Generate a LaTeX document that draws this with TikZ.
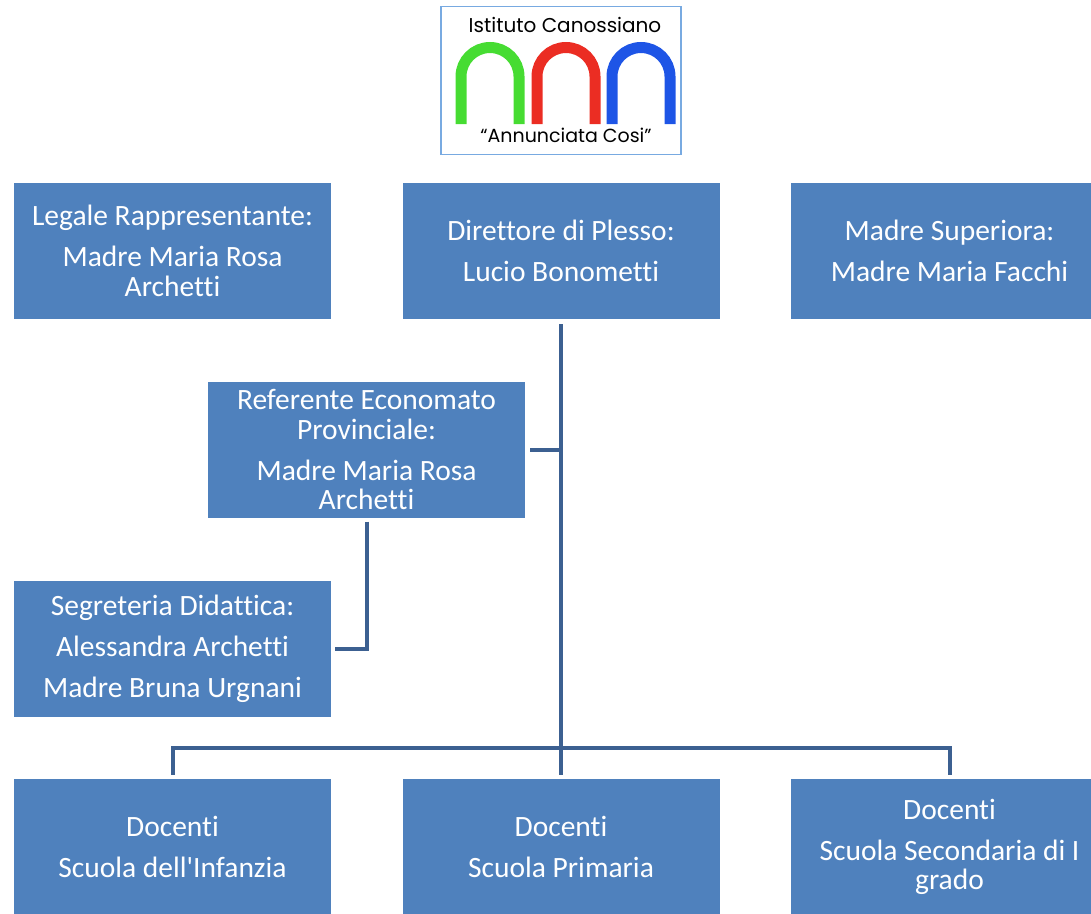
\documentclass[tikz,border=0pt]{standalone}
\usepackage{fontspec}
\setmainfont{Carlito}[Ligatures=CommonOff]
\newfontfamily\logofont{Poppins}
\usetikzlibrary{positioning}

\definecolor{boxblue}{RGB}{79,129,189}
\definecolor{linkblue}{RGB}{60,96,145}
\definecolor{logoblue}{RGB}{120,170,225}
\definecolor{archgreen}{RGB}{70,220,50}
\definecolor{archred}{RGB}{235,45,35}
\definecolor{archblue}{RGB}{30,85,230}

\tikzset{
  orgbox/.style={rectangle, fill=boxblue, text=white, inner sep=0pt,
    minimum width=317pt, minimum height=136pt, align=center,
    font=\fontsize{29.5}{29.5}\selectfont},
  link/.style={draw=linkblue, line width=4pt}
}

\begin{document}
\begin{tikzpicture}[x=1pt,y=-1pt]
\useasboundingbox (0,0) rectangle (1091,913);
\clip (0,0) rectangle (1091,913);

% logo
\node (logo) at (561,80.5) [draw=logoblue, line width=1.5pt, minimum width=240pt, minimum height=148pt] {};
\node (logotop) at (565,25) [font=\logofont\fontsize{20}{22}\selectfont] {Istituto Canossiano};
\node (logobot) at (566,135) [font=\logofont\fontsize{19}{22}\selectfont] {“Annunciata Cosi”};
\foreach \cx/\col in {490/archgreen,566/archred,641/archblue} {
\draw[\col, line width=11pt] (\cx-29,124) -- (\cx-29,76.5) arc[start angle=180, end angle=0, radius=29pt] -- (\cx+29,124);
}

% top row
\node (leg) at (172.5,251) [orgbox] {Legale Rappresentante:\\[11.5pt]Madre Maria Rosa\\Archetti};
\node (dir) at (561,251) [orgbox] {Direttore di Plesso:\\[11.5pt]Lucio Bonometti};
\node (sup) at (949.5,251) [orgbox] {Madre Superiora:\\[11.5pt]Madre Maria Facchi};

% staff
\node (ref) at (366.5,449.5) [orgbox] {Referente Economato\\Provinciale:\\[11.5pt]Madre Maria Rosa\\Archetti};
\node (seg) at (172.5,649) [orgbox] {Segreteria Didattica:\\[11.5pt]Alessandra Archetti\\[11.5pt]Madre Bruna Urgnani};

% teachers
\node (inf) at (172.5,847) [orgbox] {Docenti\\[11.5pt]Scuola dell\textquotesingle Infanzia};
\node (prim) at (561,847) [orgbox] {Docenti\\[11.5pt]Scuola Primaria};
\node (sec) at (949.5,847) [orgbox] {Docenti\\[11.5pt]Scuola Secondaria di I\\grado};

\coordinate (bus) at (561,748);

\draw[link, shorten <=5pt, shorten >=4pt] (dir.south) -- (prim.north);
\draw[link, shorten <=5pt] (ref.east) -- (ref.east -| dir.south);
\draw[link, shorten <=4pt, shorten >=4pt] (ref.south) |- (seg.east);
\draw[link, shorten <=4pt, shorten >=4pt] (inf.north) |- (bus) -| (sec.north);
\end{tikzpicture}
\end{document}
